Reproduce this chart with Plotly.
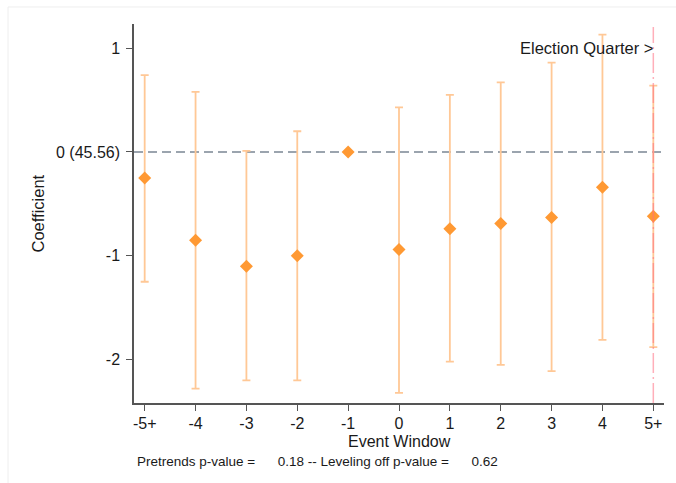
import plotly.graph_objects as go

# Event-study estimates by quarter relative to the election
window_labels = ["-5+", "-4", "-3", "-2", "-1", "0", "1", "2", "3", "4", "5+"]
coefficients = [-0.25, -0.85, -1.10, -1.00, 0.0, -0.94, -0.74, -0.69, -0.63, -0.34, -0.62]
ci_lower = [-1.25, -2.28, -2.20, -2.20, None, -2.32, -2.02, -2.05, -2.11, -1.81, -1.88]
ci_upper = [0.74, 0.58, 0.01, 0.20, None, 0.43, 0.55, 0.67, 0.86, 1.13, 0.64]

y_tick_values = [1, 0, -1, -2]
y_tick_labels = ["1", "0 (45.56)", "-1", "-2"]

pretrends_p = "0.18"
leveling_p = "0.62"
election_label = "5+"

FONT = "Arial, 'Liberation Sans', sans-serif"
AXIS_COLOR = "#555555"
BAR_COLOR = "#ffc896"
POINT_COLOR = "#ff9933"

x_idx = list(range(len(window_labels)))

# error-bar arms measured from each point estimate (omitted for the reference period)
err_plus = [None if hi is None else hi - c for hi, c in zip(ci_upper, coefficients)]
err_minus = [None if lo is None else c - lo for lo, c in zip(ci_lower, coefficients)]

fig = go.Figure()

fig.add_trace(go.Scatter(
    x=x_idx, y=coefficients, mode="markers",
    marker=dict(size=1, color="rgba(0,0,0,0)"),
    error_y=dict(type="data", symmetric=False, array=err_plus, arrayminus=err_minus,
                 color=BAR_COLOR, thickness=1.8, width=4),
    hoverinfo="skip", showlegend=False,
))

fig.add_trace(go.Scatter(
    x=x_idx, y=coefficients, mode="markers",
    marker=dict(symbol="diamond", size=10, color=POINT_COLOR),
    showlegend=False,
))

election_x = window_labels.index(election_label)

shapes = [
    # zero reference line
    dict(type="line", xref="paper", yref="y", x0=0, x1=1, y0=0, y1=0,
         line=dict(color="#7b8794", width=1.5, dash="9px,5px"), layer="below"),
    # election quarter marker
    dict(type="line", xref="x", yref="paper", x0=election_x, x1=election_x, y0=0, y1=0.992,
         line=dict(color="rgba(255,110,130,0.55)", width=1.5, dash="20px,4px,2px,4px"),
         layer="above"),
    # faint outer frame
    dict(type="line", xref="paper", yref="paper", x0=-0.2377, x1=1.03, y0=1.0449, y1=1.0449,
         line=dict(color="#eeeeee", width=1)),
    dict(type="line", xref="paper", yref="paper", x0=-0.2377, x1=-0.2377, y0=1.0449, y1=-0.22,
         line=dict(color="#eeeeee", width=1)),
]

footnote = ("Pretrends p-value =" + "\u00a0" * 6 + pretrends_p +
            " -- Leveling off p-value =" + "\u00a0" * 6 + leveling_p)

annotations = [
    dict(text="Election Quarter >", xref="x", yref="y", x=election_x, y=1.0,
         xanchor="right", yanchor="middle", showarrow=False, xshift=2,
         font=dict(family=FONT, size=16.5, color="#1a1a1a")),
    dict(text="Coefficient", xref="paper", yref="paper", x=-0.183, y=0.5, textangle=-90,
         xanchor="center", yanchor="middle", showarrow=False,
         font=dict(family=FONT, size=16.5, color="#1a1a1a")),
    dict(text="Event Window", xref="paper", yref="paper", x=0.5, y=0, yshift=-38,
         xanchor="center", yanchor="middle", showarrow=False,
         font=dict(family=FONT, size=16, color="#1a1a1a")),
    dict(text=footnote, xref="paper", yref="paper", x=0.0068, y=0, yshift=-58, xshift=-2.5,
         xanchor="left", yanchor="middle", showarrow=False,
         font=dict(family=FONT, size=13.5, color="#1a1a1a")),
]

fig.update_layout(
    width=676, height=483,
    margin=dict(l=134, r=12, t=24, b=80),
    paper_bgcolor="white", plot_bgcolor="white",
    font=dict(family=FONT, size=16, color="#1a1a1a"),
    shapes=shapes, annotations=annotations,
    xaxis=dict(
        tickmode="array", tickvals=x_idx, ticktext=window_labels,
        range=[-0.21, 10.21], showgrid=False, zeroline=False,
        showline=True, linecolor=AXIS_COLOR, linewidth=1.5,
        ticks="outside", ticklen=6, tickwidth=1.3, tickcolor=AXIS_COLOR,
        tickfont=dict(family=FONT, size=16), ticklabelstandoff=-1,
    ),
    yaxis=dict(
        tickmode="array", tickvals=y_tick_values, ticktext=y_tick_labels,
        range=[-2.418, 1.233], showgrid=False, zeroline=False,
        showline=True, linecolor=AXIS_COLOR, linewidth=1.5,
        ticks="outside", ticklen=6, tickwidth=1.3, tickcolor=AXIS_COLOR,
        tickfont=dict(family=FONT, size=16), ticklabelstandoff=3,
    ),
)

fig.write_html("out.html")
